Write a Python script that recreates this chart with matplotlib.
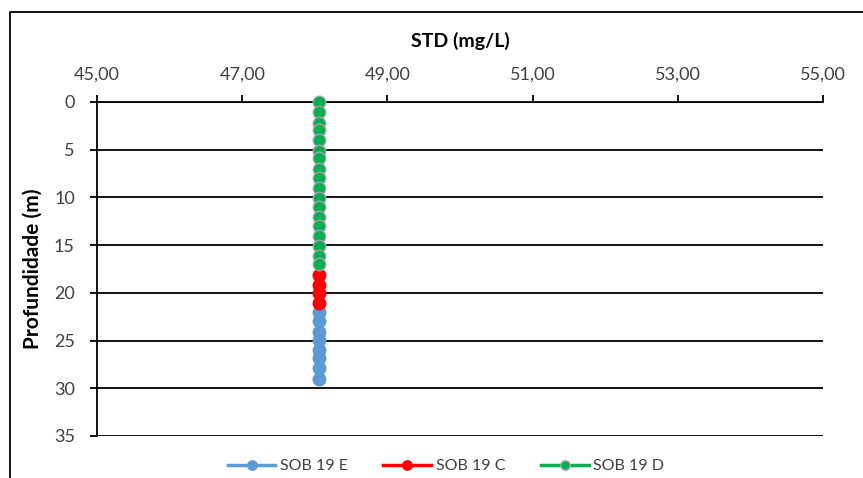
import matplotlib.pyplot as plt
from matplotlib.patches import Rectangle
from matplotlib.ticker import FuncFormatter

plt.rcParams['font.family'] = ['Lato', 'DejaVu Sans']

# ── DATA ─────────────────────────────────────────────────────
depth_e = [22, 23, 24.1, 24.9, 26, 26.8, 27.9, 29]
std_e   = [48.06] * 8
depth_c = [18.1, 19.2, 20, 21.1]
std_c   = [48.06] * 4
depth_d = [0, 1, 2.2, 2.9, 4, 5.1, 5.9, 7, 8, 9, 10.1, 11, 12, 13, 14,
           15.1, 16.1, 17]
std_d   = [48.06] * 18

x_ticks = [45, 47, 49, 51, 53, 55]
y_ticks = [0, 5, 10, 15, 20, 25, 30, 35]

# ── COLORS ───────────────────────────────────────────────────
BLUE  = '#5B9BD5'
RED   = '#FF0000'
GREEN = '#00B050'
EDGE  = '#A5A5A5'
TXT   = '#404040'

fig = plt.figure(figsize=(8.63, 4.78), dpi=100)
ax = fig.add_axes([97 / 863, 1 - 436 / 478, (823 - 97) / 863, (436 - 102) / 478])

# chart border (extends past right/bottom edge)
fig.patches.append(Rectangle((10 / 863, -0.1), 1.2, 1 - 12 / 478 + 0.1,
                             transform=fig.transFigure, fill=False,
                             edgecolor='black', linewidth=1.3))

ax.plot(std_e, depth_e, color=BLUE, linewidth=2.5, marker='o',
        markersize=9, markeredgecolor=BLUE, label='SOB 19 E', zorder=3,
        clip_on=False)
ax.plot(std_c, depth_c, color=RED, linewidth=2.5, marker='o',
        markersize=9, markeredgecolor=RED, label='SOB 19 C', zorder=4,
        clip_on=False)
ax.plot(std_d, depth_d, color=GREEN, linewidth=2.5, marker='o',
        markersize=9, markeredgecolor=EDGE, markeredgewidth=1,
        label='SOB 19 D', zorder=5, clip_on=False)

ax.set_xlim(45, 55)
ax.set_ylim(35, 0)
ax.set_xticks(x_ticks)
ax.set_yticks(y_ticks)
ax.xaxis.tick_top()
ax.xaxis.set_label_position('top')
ax.xaxis.set_major_formatter(FuncFormatter(lambda v, _: f'{v:.2f}'.replace('.', ',')))

ax.grid(axis='y', color='black', linewidth=1.3)
ax.set_axisbelow(True)
for s in ['right', 'bottom']:
    ax.spines[s].set_visible(False)
for s in ['left', 'top']:
    ax.spines[s].set_linewidth(1.3)
ax.tick_params(axis='x', direction='out', length=5, width=1.3,
               labelsize=13, colors='black', labelcolor=TXT, pad=9)
ax.tick_params(axis='y', direction='out', length=5, width=1.3,
               labelsize=13, colors='black', labelcolor=TXT, pad=11)

ax.set_xlabel('STD (mg/L)', fontsize=14, fontweight='bold', labelpad=14)
ax.set_ylabel('Profundidade (m)', fontsize=15, fontweight='bold', labelpad=8)

ax.legend(loc='center', bbox_to_anchor=(446 / 863, 1 - 466 / 478),
          bbox_transform=fig.transFigure, ncol=3, frameon=False,
          fontsize=11.5, labelcolor=TXT, handlelength=3, columnspacing=2.2,
          handletextpad=0.3, markerscale=0.75)

plt.savefig('out.png', dpi=100)
